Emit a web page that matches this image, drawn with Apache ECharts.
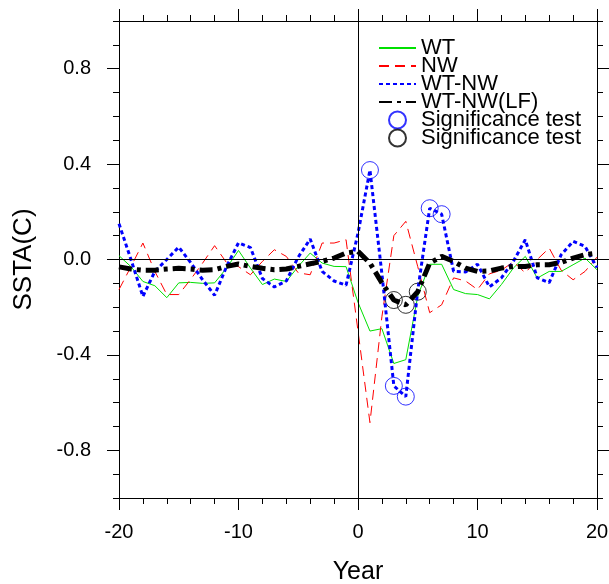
<!DOCTYPE html>
<html>
<head>
<meta charset="utf-8">
<script src="https://cdn.jsdelivr.net/npm/echarts@6/dist/echarts.min.js"></script>
<style>
  html, body { margin: 0; padding: 0; background: #fff; }
  #chart { width: 609px; height: 584px; }
</style>
</head>
<body>
<div id="chart"></div>
<script>
// lag years
var years = [-20,-19,-18,-17,-16,-15,-14,-13,-12,-11,-10,-9,-8,-7,-6,-5,-4,-3,-2,-1,
             0,1,2,3,4,5,6,7,8,9,10,11,12,13,14,15,16,17,18,19,20];
var wt = [0.016,-0.03,-0.092,-0.11,-0.16,-0.098,-0.096,-0.10,-0.098,-0.036,0.038,-0.036,-0.105,-0.082,-0.092,-0.029,0.027,-0.015,-0.029,-0.03,
          -0.18,-0.30,-0.29,-0.436,-0.42,-0.154,-0.02,-0.02,-0.126,-0.143,-0.147,-0.165,-0.105,-0.036,0.013,-0.078,-0.05,-0.05,-0.022,0.006,-0.043];
var nw = [-0.126,-0.03,0.069,-0.05,-0.147,-0.147,-0.083,-0.015,0.058,-0.013,-0.03,-0.064,-0.008,0.041,0.013,-0.056,-0.064,0.069,0.069,0.083,
          -0.30,-0.684,-0.24,0.10,0.16,-0.03,-0.223,-0.19,-0.077,-0.09,-0.126,-0.06,-0.045,-0.01,-0.056,0.0,0.048,-0.045,-0.085,-0.05,0.01];
var diff = [0.15,0.0,-0.155,-0.05,0.0,0.052,-0.013,-0.085,-0.15,-0.03,0.07,0.05,-0.08,-0.115,-0.09,0.01,0.086,-0.05,-0.09,-0.108,
            0.11,0.375,-0.06,-0.53,-0.575,-0.13,0.215,0.19,-0.05,-0.052,-0.02,-0.115,-0.077,-0.008,0.083,-0.077,-0.097,0.02,0.076,0.055,-0.034];
var diffLF = [-0.031,-0.04,-0.045,-0.045,-0.04,-0.037,-0.04,-0.045,-0.043,-0.029,-0.019,-0.029,-0.037,-0.043,-0.04,-0.029,-0.018,-0.008,0.006,0.027,
              0.034,-0.015,-0.098,-0.17,-0.19,-0.135,-0.015,0.013,-0.008,-0.036,-0.05,-0.048,-0.036,-0.029,-0.029,-0.022,-0.022,-0.012,0.006,0.02,0.027];
var sigBlueYears = [1, 3, 4, 6, 7];
var sigBlueVals = [0.375, -0.53, -0.575, 0.215, 0.19];
var sigBlackYears = [3, 4, 5];
var sigBlackVals = [-0.17, -0.19, -0.135];
var yMajor = [-0.8, -0.4, 0, 0.4, 0.8];

function pairs(xs, ys) {
    return xs.map(function (x, i) { return [x, ys[i]]; });
}

var font = "'Liberation Sans', Arial, Helvetica, sans-serif";
var black = '#000';

function xAx(pos, labels) {
    return {
        type: 'value', position: pos, min: -20, max: 20, interval: 10,
        axisLine: { show: true, onZero: false, lineStyle: { color: black, width: 1 } },
        axisTick: { show: true, inside: false, length: 12, lineStyle: { color: black, width: 1 } },
        minorTick: { show: true, splitNumber: 5, length: 6, lineStyle: { color: black, width: 1 } },
        splitLine: { show: false },
        axisLabel: { show: labels, color: black, fontSize: 20, fontFamily: font, margin: 24 },
        name: labels ? 'Year' : '',
        nameLocation: 'middle', nameGap: 62,
        nameTextStyle: { color: black, fontSize: 25, fontFamily: font }
    };
}
function yMinor(pos) {
    return {
        type: 'value', position: pos, min: -1, max: 1, interval: 0.1,
        axisLine: { show: true, onZero: false, lineStyle: { color: black, width: 1 } },
        axisTick: { show: true, inside: false, length: 6, lineStyle: { color: black, width: 1 } },
        splitLine: { show: false },
        axisLabel: { show: false }
    };
}
function yMajorAx(pos, labels) {
    return {
        type: 'value', position: pos, min: -1, max: 1,
        axisLine: { show: false, onZero: false },
        axisTick: { show: true, inside: false, length: 12, customValues: yMajor, lineStyle: { color: black, width: 1 } },
        splitLine: { show: false },
        axisLabel: {
            show: labels, customValues: yMajor, color: black, fontSize: 20, fontFamily: font, margin: 28,
            formatter: function (v) { return v.toFixed(1); }
        },
        name: labels ? 'SSTA(C)' : '',
        nameLocation: 'middle', nameGap: 82,
        nameTextStyle: { color: black, fontSize: 26, fontFamily: font }
    };
}

// line entries in the legend show only the line sample
var noSymbol = { opacity: 0 };

var chart = echarts.init(document.getElementById('chart'), null, { renderer: 'canvas' });
var option = {
    animation: false,
    backgroundColor: '#fff',
    grid: { left: 119, right: 12, top: 21, bottom: 86, outerBoundsMode: 'none' },
    xAxis: [xAx('bottom', true), xAx('top', false)],
    yAxis: [yMinor('left'), yMajorAx('left', true), yMinor('right'), yMajorAx('right', false)],
    legend: {
        orient: 'vertical', left: 373, top: 32,
        itemWidth: 37, itemHeight: 17, itemGap: -4,
        textStyle: { color: black, fontSize: 22, fontFamily: font },
        formatter: function (name) { return name.replace(' (LF)', ''); },
        data: [
            { name: 'WT', itemStyle: noSymbol },
            { name: 'NW', itemStyle: noSymbol },
            { name: 'WT-NW', itemStyle: noSymbol },
            { name: 'WT-NW(LF)', itemStyle: noSymbol },
            'Significance test',
            'Significance test (LF)'
        ]
    },
    series: [
        {
            name: 'WT', type: 'line', data: pairs(years, wt), symbol: 'none',
            lineStyle: { color: '#00e000', width: 1, type: 'solid' }, itemStyle: { color: '#00e000' },
            markLine: {
                silent: true, symbol: ['none', 'none'], label: { show: false },
                lineStyle: { color: black, width: 1, type: 'solid' },
                data: [{ xAxis: 0 }, { yAxis: 0 }]
            }
        },
        {
            name: 'NW', type: 'line', data: pairs(years, nw), symbol: 'none',
            lineStyle: { color: '#ff0000', width: 1, type: [10, 6] }, itemStyle: { color: '#ff0000' }
        },
        {
            name: 'WT-NW', type: 'line', data: pairs(years, diff), symbol: 'none',
            lineStyle: { color: '#0000ff', width: 3, type: [4, 3] }, itemStyle: { color: '#0000ff' }
        },
        {
            name: 'WT-NW(LF)', type: 'line', data: pairs(years, diffLF), symbol: 'none',
            lineStyle: { color: black, width: 5, type: [13, 5, 4, 5] }, itemStyle: { color: black }
        },
        {
            name: 'Significance test', type: 'scatter', data: pairs(sigBlueYears, sigBlueVals),
            symbol: 'circle', symbolSize: 17, symbolKeepAspect: true,
            itemStyle: { color: 'rgba(0,0,0,0)', borderColor: '#0000ff', borderWidth: 1 }
        },
        {
            name: 'Significance test (LF)', type: 'scatter', data: pairs(sigBlackYears, sigBlackVals),
            symbol: 'circle', symbolSize: 17, symbolKeepAspect: true,
            itemStyle: { color: 'rgba(0,0,0,0)', borderColor: black, borderWidth: 1 }
        }
    ]
};
chart.setOption(option);
</script>
</body>
</html>
